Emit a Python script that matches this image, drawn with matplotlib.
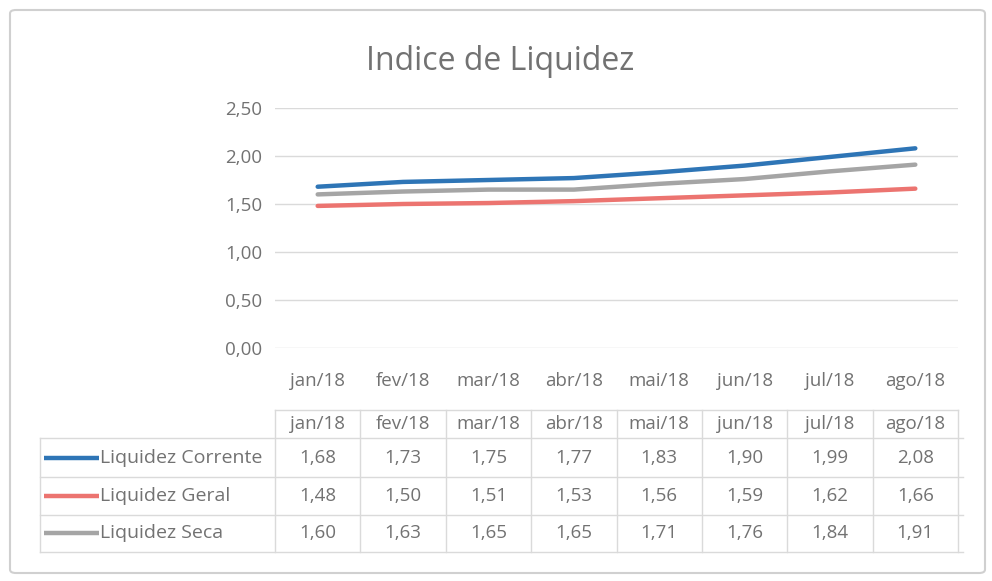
import matplotlib.pyplot as plt
from matplotlib.patches import FancyBboxPatch
from matplotlib.lines import Line2D

plt.rcParams['font.family'] = ['Open Sans', 'DejaVu Sans']

meses = ['jan/18', 'fev/18', 'mar/18', 'abr/18', 'mai/18', 'jun/18', 'jul/18', 'ago/18']
corrente = [1.68, 1.73, 1.75, 1.77, 1.83, 1.90, 1.99, 2.08]
geral = [1.48, 1.50, 1.51, 1.53, 1.56, 1.59, 1.62, 1.66]
seca = [1.60, 1.63, 1.65, 1.65, 1.71, 1.76, 1.84, 1.91]

series = [
    ('Liquidez Corrente', corrente, '#2E75B6'),
    ('Liquidez Geral', geral, '#EC7470'),
    ('Liquidez Seca', seca, '#A5A5A5'),
]
texto = '#727272'
grade = '#DADADA'
fs = 13.5

W, H = 992, 581
fig = plt.figure(figsize=(W / 100, H / 100), dpi=100)

# moldura do grafico
fig.patches.append(FancyBboxPatch((10 / W, 8 / H), 975 / W, 563 / H,
                                  boxstyle='round,pad=0,rounding_size=0.006',
                                  transform=fig.transFigure, fill=False,
                                  edgecolor='#D0D0D0', linewidth=1.5))

# area do grafico em pixels: x 275..958, y 108..348
ax = fig.add_axes([275 / W, 1 - 348 / H, 683 / W, 240 / H])
x = range(len(meses))
for nome, vals, cor in series:
    ax.plot(x, vals, color=cor, linewidth=3.2, solid_capstyle='round',
            solid_joinstyle='round')

ax.set_xlim(-0.5, len(meses) - 0.5)
ax.set_ylim(0, 2.5)
ax.set_yticks([0, 0.5, 1.0, 1.5, 2.0, 2.5])
ax.set_yticklabels(['0,00', '0,50', '1,00', '1,50', '2,00', '2,50'])
ax.set_xticks(list(x))
ax.set_xticklabels(meses)
ax.tick_params(length=0, colors=texto, labelsize=fs)
ax.tick_params(axis='y', pad=9)
ax.tick_params(axis='x', pad=17)
ax.grid(axis='y', color=grade, linewidth=1)
ax.set_axisbelow(True)
for s in ax.spines.values():
    s.set_visible(False)

fig.text(500 / W, 1 - 61 / H, 'Indice de Liquidez', ha='center', va='center',
         fontsize=23, color=texto)

# tabela de dados abaixo do eixo
def ya(py):
    return (348 - py) / 240

tr = ax.get_xaxis_transform()
linhas_y = [410, 438, 477, 515, 552]
for i, py in enumerate(linhas_y):
    if i == 0:
        ax.plot([-0.5, len(meses) - 0.5], [ya(py)] * 2, transform=tr,
                color=grade, lw=1, clip_on=False)
    else:
        fig.add_artist(Line2D([40 / W, 963 / W], [1 - py / H] * 2,
                              color=grade, lw=1))
for k in range(len(meses) + 1):
    ax.plot([k - 0.5] * 2, [ya(410), ya(552)], transform=tr,
            color=grade, lw=1, clip_on=False)
fig.add_artist(Line2D([40 / W] * 2, [1 - 438 / H, 1 - 552 / H], color=grade, lw=1))

for k, m in enumerate(meses):
    ax.text(k, ya(424), m, transform=tr, ha='center', va='center',
            fontsize=fs, color=texto, clip_on=False)

centros = [458, 496, 533]
for (nome, vals, cor), py in zip(series, centros):
    fy = 1 - py / H
    fig.add_artist(Line2D([44 / W, 99 / W], [fy, fy], color=cor, lw=3.2,
                          solid_capstyle='butt'))
    fig.text(100 / W, fy, nome, ha='left', va='center', fontsize=fs + 0.5,
             color=texto)
    for k, v in enumerate(vals):
        ax.text(k, ya(py), f'{v:.2f}'.replace('.', ','), transform=tr,
                ha='center', va='center', fontsize=fs, color=texto,
                clip_on=False)

fig.savefig('out.png', dpi=100)
